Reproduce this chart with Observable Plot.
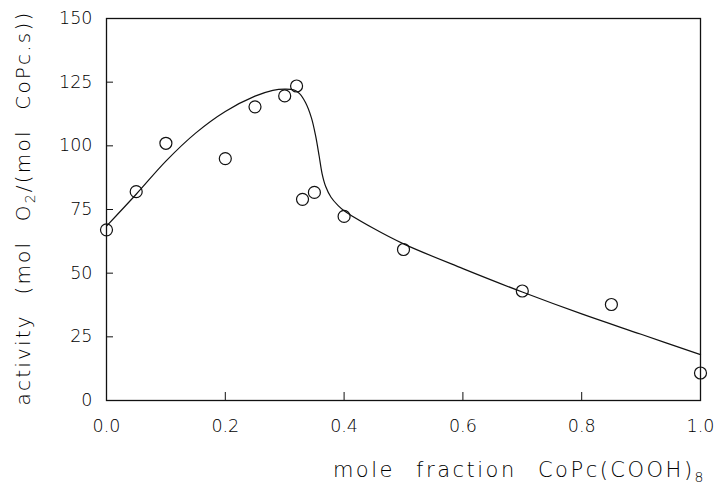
<!DOCTYPE html>
<html>
<head>
<meta charset="utf-8">
<script src="https://cdn.jsdelivr.net/npm/d3@7"></script>
<script src="https://cdn.jsdelivr.net/npm/@observablehq/plot@0.6"></script>
<style>
  html, body { margin: 0; padding: 0; background: #fff; }
  svg text { font-family: "DejaVu Sans", sans-serif; font-weight: 200; }
</style>
</head>
<body>
<div id="chart"></div>
<script>
// measured points
const pointX = [0, 0.05, 0.1, 0.2, 0.25, 0.3, 0.32, 0.33, 0.35, 0.4, 0.5, 0.7, 0.85, 1.0];
const pointY = [67, 82, 101, 95, 115.3, 119.6, 123.5, 79, 81.7, 72.3, 59.3, 43, 37.7, 10.8];

// fitted curve
const curveX = [0, 0.05, 0.1, 0.15, 0.2, 0.25, 0.28, 0.3, 0.315, 0.325, 0.335, 0.345, 0.352, 0.358, 0.363, 0.369, 0.378, 0.39, 0.4, 0.45, 0.5, 0.6, 0.7, 0.8, 0.9, 1.0];
const curveY = [68.5, 81, 94, 105, 113.5, 119.5, 121.8, 122.3, 122, 120.5, 117, 111, 104, 96, 89, 84, 79.8, 76.5, 74.5, 67.5, 61.5, 51.8, 42.6, 34, 26, 18];

const xTicks = [0, 0.2, 0.4, 0.6, 0.8, 1.0];
const yTicks = [0, 25, 50, 75, 100, 125, 150];
const xInnerTicks = [0.2, 0.4, 0.6, 0.8];
const yInnerTicks = [25, 50, 75, 100, 125];

const points = pointX.map((x, i) => ({x, y: pointY[i]}));
const curve = curveX.map((x, i) => ({x, y: curveY[i]}));

const plot = Plot.plot({
  width: 718,
  height: 490,
  marginLeft: 106,
  marginRight: 18,
  marginTop: 18,
  marginBottom: 90,
  style: {fontFamily: "DejaVu Sans, sans-serif", fontSize: "17px", color: "#000", background: "#fff"},
  x: {domain: [0, 1]},
  y: {domain: [0, 150]},
  marks: [
    Plot.frame({stroke: "#111", strokeWidth: 1.3}),
    Plot.axisX({ticks: xTicks, tickFormat: d3.format(".1f"), tickSize: 0, tickPadding: 19, label: null, fontSize: 17.5, fill: "#000"}),
    Plot.axisY({ticks: yTicks, tickFormat: d3.format("d"), tickSize: 0, tickPadding: 14, label: null, fontSize: 17.5, fill: "#000"}),
    Plot.axisX({ticks: xInnerTicks, tickSize: -8, text: null, label: null, stroke: "#111"}),
    Plot.axisY({ticks: yInnerTicks, tickSize: -7, text: null, label: null, stroke: "#111"}),
    Plot.line(curve, {x: "x", y: "y", curve: "catmull-rom", stroke: "#111", strokeWidth: 1.2}),
    Plot.dot(points, {x: "x", y: "y", r: 6, stroke: "#111", strokeWidth: 1.2, fill: "none"})
  ]
});

document.getElementById("chart").appendChild(plot);

const svg = d3.select(plot);
// x-axis title
const xt = svg.append("text")
  .attr("x", 706).attr("y", 477)
  .attr("text-anchor", "end")
  .attr("font-size", 21)
  .attr("fill", "#000")
  .attr("word-spacing", 12)
  .attr("letter-spacing", 2.5);
xt.append("tspan").text("mole fraction CoPc(COOH)");
xt.append("tspan").attr("font-size", 14).attr("dy", 5).text("8");

// y-axis title
const yt = svg.append("text")
  .attr("transform", "translate(30,208) rotate(-90)")
  .attr("text-anchor", "middle")
  .attr("font-size", 20)
  .attr("fill", "#000")
  .attr("word-spacing", 11)
  .attr("letter-spacing", 2.2);
yt.append("tspan").text("activity (mol O");
yt.append("tspan").attr("font-size", 14).attr("dy", 5).text("2");
yt.append("tspan").attr("dy", -5).text("/(mol CoPc.s))");
</script>
</body>
</html>
